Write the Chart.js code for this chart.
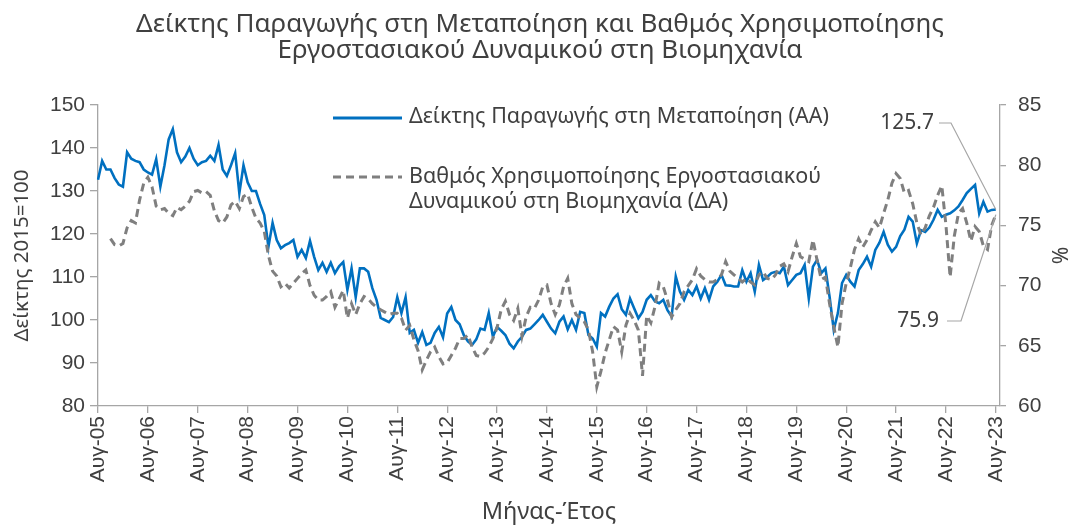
<!DOCTYPE html>
<html><head><meta charset="utf-8">
<script src="https://cdn.jsdelivr.net/npm/chart.js@4.4.0/dist/chart.umd.min.js"></script>
<style>html,body{margin:0;padding:0;background:#fff;}</style>
</head><body>
<canvas id="c" width="1073" height="526"></canvas>
<script>
// ---------- DATA ----------
const monthNames = ['Ιαν','Φεβ','Μαρ','Απρ','Μαϊ','Ιουν','Ιουλ','Αυγ','Σεπ','Οκτ','Νοε','Δεκ'];
const categories = [];
for (let i = 0; i < 218; i++) {
  const m = (7 + i) % 12;
  const y = 2005 + Math.floor((7 + i) / 12);
  categories.push(monthNames[m] + '-' + String(y % 100).padStart(2, '0'));
}
// Δείκτης Παραγωγής στη Μεταποίηση (2015=100), Aug-05 .. Aug-23
const ipi = [
132.6,137,135,135,133,131.5,131,139,137.5,137,136.7,135,
134.3,133.8,137.4,131,136,142,144.4,139,136.7,138,140,137.5,
136,136.7,137,138.2,137,140.7,135,133.5,136,138.8,129.5,136,
132,130,130,127,124.4,117,122.6,118.6,116.7,117.4,117.9,118.6,
114.7,116.3,114.4,118.4,114.7,111.6,113.3,111.2,113.3,110.9,112.5,113.5,
107,112,105.3,112,112,111.2,107.4,104.7,100.5,100,99.5,100.7,
105.3,101.6,105.3,97,97.7,94.7,97.2,94.2,94.7,97,98.4,96,
101.5,103,100,99,96.5,95,94.2,95.5,98,97.7,101.6,96.1,
98.4,97.5,96.5,94.5,93.4,95,96.1,97.7,98,99,100,101.2,
99.6,98,96.9,99.6,100.8,97.8,100,97.7,101.9,101.6,96.5,95.7,
93.8,101.6,100.8,103.1,105,106,102.5,101.2,105,102.7,100.4,101.9,
104.7,105.8,104.3,103.9,104.7,102.3,100.8,110.1,106.6,104.7,107,105.8,
107.8,105,107.4,104.7,107.8,108.9,110.5,108.1,108,107.8,107.8,111.6,
108.9,110.9,106.6,112.8,109.3,110,110.9,111.2,110.9,112.4,108.1,109.3,
110.5,110.9,112.8,105,112.4,114,110.9,112,105.4,97.7,101.6,108.6,
110.5,108.9,107.8,111.6,113,114.7,112.4,116.3,118,120.5,117.5,115.9,
117,119.5,121,124,122.9,117.8,120.9,120.5,121.5,123.3,125.6,124,
124.5,124.8,125.5,126.4,127.9,129.5,130.5,131.4,124.8,127.5,125.2,125.6,
125.7,null
];
// Βαθμός Χρησιμοποίησης Εργοστασιακού Δυναμικού (%), Aug-05 .. Aug-23
const capacity = [
null,null,null,73.9,73.4,73.3,73.5,74.8,75.4,75.2,77.1,78.5,
79.0,78.2,76.6,76.3,76.4,76.0,75.8,76.5,76.3,76.6,77.0,77.8,
77.9,77.7,77.8,77.5,76.2,75.4,75.2,75.7,76.7,77.0,76.4,77.4,
77.6,76.5,75.6,75.2,74.5,72.5,71.2,70.8,69.9,70.2,69.8,70.2,
70.6,71.0,71.3,70.0,69.2,68.8,68.8,69.1,69.5,68.2,68.9,69.6,
67.3,68.5,67.6,68.5,69.1,68.9,68.5,68.2,68.0,67.8,67.6,67.7,
67.7,67.3,66.3,66.7,65.5,64.6,63.0,63.8,64.5,64.9,64.1,63.5,
63.6,64.2,64.8,65.6,65.6,65.9,64.9,64.2,64.1,64.4,64.9,65.6,
66.5,68.0,68.7,67.6,67.1,68.1,65.8,67.4,68.2,68.1,68.8,69.9,
70.05,68.5,67.6,68.4,69.9,70.6,68.5,67.6,67.3,67.0,66.3,64.5,
61.6,62.9,64.4,65.5,66.6,66.3,64.5,66.7,67.7,67.1,66.3,62.5,
67.5,66.9,68.25,70.2,69.9,68.8,67.4,68.0,68.5,69.5,70.0,70.5,
71.4,70.8,70.5,70.3,70.3,70.5,70.9,72.0,71.2,70.9,70.6,70.3,
70.6,70.3,70.05,70.9,71.15,70.6,70.5,70.9,71.6,71.8,71.15,72.4,
73.5,72.4,72.2,72.0,73.8,72.1,70.5,70.7,68.5,66.6,64.9,68.5,
70.2,71.5,73.0,73.9,73.2,73.8,74.6,75.3,74.8,76.0,77.1,78.5,
79.3,78.9,77.7,77.9,76.8,75.2,74.2,74.8,75.8,76.5,77.5,78.3,
75.0,70.7,74.1,76.0,76.4,75.2,73.7,74.9,74.5,73.3,73.0,75.0,
75.9,null
];
const leftTicks = {min: 80, max: 150, step: 10};
const rightTicks = {min: 60, max: 85, step: 5};
const titleLines = ['Δείκτης Παραγωγής στη Μεταποίηση και Βαθμός Χρησιμοποίησης', 'Εργοστασιακού Δυναμικού στη Βιομηχανία'];
const seriesNames = ['Δείκτης Παραγωγής στη Μεταποίηση (ΑΑ)', ['Βαθμός Χρησιμοποίησης Εργοστασιακού', 'Δυναμικού στη Βιομηχανία (ΔΑ)']];
const lastIpi = ipi[216], lastCap = capacity[216];

// ---------- STYLE ----------
const BLUE = '#0070C0', GREY = '#7F7F7F', TXT = '#404040', AX = '#A6A6A6';
const TFONT = '"Noto Sans", "DejaVu Sans", sans-serif';
const NFONT = '"Liberation Sans", Arial, sans-serif';

const extras = {
  id: 'extras',
  afterDraw(chart) {
    const ctx = chart.ctx;
    ctx.save();
    // title
    ctx.fillStyle = TXT;
    ctx.font = '26px ' + TFONT;
    ctx.textAlign = 'center';
    ctx.textBaseline = 'middle';
    ctx.fillText(titleLines[0], 540, 25);
    ctx.fillText(titleLines[1], 540, 51);
    // legend
    ctx.lineWidth = 3;
    ctx.strokeStyle = BLUE;
    ctx.setLineDash([]);
    ctx.beginPath(); ctx.moveTo(333, 118); ctx.lineTo(402, 118); ctx.stroke();
    ctx.strokeStyle = GREY;
    ctx.setLineDash([8, 5]);
    ctx.beginPath(); ctx.moveTo(333, 177); ctx.lineTo(402, 177); ctx.stroke();
    ctx.setLineDash([]);
    ctx.font = '21.5px ' + TFONT;
    ctx.textAlign = 'left';
    ctx.fillText(seriesNames[0], 409, 117);
    ctx.fillText(seriesNames[1][0], 409, 177);
    ctx.fillText(seriesNames[1][1], 409, 202);
    // end-value annotations
    const xs = chart.scales.x, yl = chart.scales.y, yr = chart.scales.y2;
    const px = xs.getPixelForValue(216);
    const p1 = yl.getPixelForValue(lastIpi);
    const p2 = yr.getPixelForValue(lastCap);
    ctx.strokeStyle = AX; ctx.lineWidth = 1.2;
    ctx.beginPath(); ctx.moveTo(939, 123); ctx.lineTo(951, 123); ctx.lineTo(px, p1); ctx.stroke();
    ctx.beginPath(); ctx.moveTo(947, 321); ctx.lineTo(961, 321); ctx.lineTo(px, p2); ctx.stroke();
    ctx.fillStyle = TXT;
    ctx.font = '21px ' + TFONT;
    ctx.textAlign = 'right';
    ctx.fillText(lastIpi.toFixed(1), 934, 123);
    ctx.fillText(lastCap.toFixed(1), 939, 321);
    ctx.restore();
  }
};

new Chart(document.getElementById('c'), {
  type: 'line',
  data: {
    labels: categories,
    datasets: [
      {label: seriesNames[1].join(' '), data: capacity, yAxisID: 'y2', borderColor: GREY, borderWidth: 3,
       borderDash: [8, 5], pointRadius: 0, tension: 0, spanGaps: false, order: 0},
      {label: seriesNames[0], data: ipi, yAxisID: 'y', borderColor: BLUE, borderWidth: 2.6,
       pointRadius: 0, tension: 0, order: 1}
    ]
  },
  options: {
    responsive: false,
    animation: false,
    layout: {padding: {top: 105, left: 0, right: 0, bottom: 0}},
    plugins: {legend: {display: false}, tooltip: {enabled: false}, title: {display: false}},
    scales: {
      x: {
        type: 'category',
        offset: false,
        afterFit(s) { s.height = 120; },
        border: {display: true, color: AX, width: 1.3},
        grid: {display: true, drawOnChartArea: false, drawTicks: true, tickLength: 7, color: AX, lineWidth: 1.3},
        ticks: {
          autoSkip: false, maxRotation: 90, minRotation: 90, padding: 3,
          color: TXT, font: {family: NFONT, size: 21},
          callback(v, i) { return (i % 12 === 0 && i <= 216) ? categories[i] : null; }
        },
        title: {display: true, text: 'Μήνας-Έτος', color: TXT, font: {family: TFONT, size: 23.5}, padding: {top: 0, bottom: 0}}
      },
      y: {
        position: 'left', min: leftTicks.min, max: leftTicks.max,
        afterFit(s) { s.width = 98; },
        border: {display: true, color: AX, width: 1.3},
        grid: {drawOnChartArea: false, tickLength: 8, color: AX, lineWidth: 1.3},
        ticks: {stepSize: leftTicks.step, padding: 5, color: TXT, font: {family: NFONT, size: 21}},
        title: {display: true, text: 'Δείκτης 2015=100', color: TXT, font: {family: TFONT, size: 20.5}, padding: {top: 10, bottom: 10}}
      },
      y2: {
        position: 'right', min: rightTicks.min, max: rightTicks.max,
        afterFit(s) { s.width = 73; },
        border: {display: true, color: AX, width: 1.3},
        grid: {drawOnChartArea: false, tickLength: 6, color: AX, lineWidth: 1.3},
        ticks: {stepSize: rightTicks.step, padding: 12, color: TXT, font: {family: NFONT, size: 21}},
        title: {display: true, text: '%', color: TXT, font: {family: TFONT, size: 21}, padding: {top: 2, bottom: 2}}
      }
    }
  },
  plugins: [extras]
});
</script>
</body></html>
